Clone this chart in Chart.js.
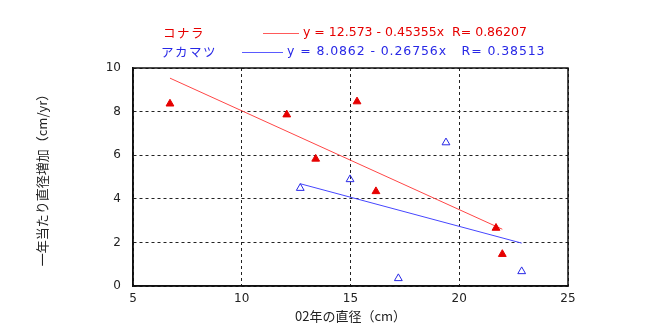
<!DOCTYPE html>
<html>
<head>
<meta charset="utf-8">
<script src="https://cdn.jsdelivr.net/npm/chart.js@4"></script>
<style>
  html, body { margin: 0; padding: 0; background: #fff; }
  #wrap { width: 657px; height: 332px; }
</style>
</head>
<body>
<div id="wrap"><canvas id="grafico"></canvas></div>
<script>
// コナラ (filled red) and アカマツ (open blue): 02年の直径 vs 年間直径増加
const konaraX = [6.7, 12.07, 13.4, 15.3, 16.17, 21.69, 21.98];
const konaraY = [8.36, 7.86, 5.83, 8.46, 4.34, 2.66, 1.46];
const akamatsuX = [12.69, 14.98, 19.39, 17.2, 22.87];
const akamatsuY = [4.49, 4.89, 6.58, 0.35, 0.67];

// regression coefficients shown in the legend: y = a - b x
const konaraFit = { a: 12.573, b: 0.45355, r: '0.86207' };
const akamatsuFit = { a: 8.0862, b: 0.26756, r: '0.38513' };

const xTicks = [5, 10, 15, 20, 25];
const yTicks = [0, 2, 4, 6, 8, 10];

const ROJO = 'rgb(230, 0, 0)';
const AZUL = 'rgb(40, 40, 230)';
const fuente = '"DejaVu Sans", "Noto Sans CJK JP", sans-serif';
const fuenteJP = '"Noto Sans CJK JP", "DejaVu Sans", sans-serif';

function puntos(xs, ys) {
  return xs.map((x, i) => ({ x: x, y: ys[i] }));
}

// trend line runs from smallest to largest diameter of the species
function recta(xs, fit) {
  const x0 = Math.min(...xs);
  const x1 = Math.max(...xs);
  return [{ x: x0, y: fit.a - fit.b * x0 }, { x: x1, y: fit.a - fit.b * x1 }];
}

// two-row legend above the plot, drawn by hand
const leyenda = {
  id: 'leyenda',
  afterDraw(chart) {
    const ctx = chart.ctx;
    const a = chart.chartArea;
    const filas = [
      { nombre: 'コナラ', color: ROJO, linea: 'rgb(255, 90, 90)', y: 33, xn: a.left + 30, l0: a.left + 130, l1: a.left + 166,
        texto: 'y = ' + konaraFit.a + ' - ' + konaraFit.b + 'x  R= ' + konaraFit.r, esp: '0px' },
      { nombre: 'アカマツ', color: AZUL, linea: 'rgb(90, 90, 255)', y: 52, xn: a.left + 28, l0: a.left + 109, l1: a.left + 150,
        texto: 'y = ' + akamatsuFit.a + ' - ' + akamatsuFit.b + 'x   R= ' + akamatsuFit.r, esp: '0.9px' }
    ];
    ctx.save();
    ctx.textBaseline = 'middle';
    filas.forEach(f => {
      ctx.fillStyle = f.color;
      ctx.font = '12.5px ' + fuenteJP;
      ctx.letterSpacing = '1.5px';
      ctx.fillText(f.nombre, f.xn, f.y);
      ctx.strokeStyle = f.linea;
      ctx.lineWidth = 1;
      ctx.beginPath();
      ctx.moveTo(f.l0, f.y + 0.5);
      ctx.lineTo(f.l1, f.y + 0.5);
      ctx.stroke();
      ctx.font = '12.5px ' + fuente;
      ctx.letterSpacing = f.esp;
      ctx.fillText(f.texto, f.l1 + 4, f.y);
    });
    ctx.restore();
  }
};

const rejilla = { color: '#222', lineWidth: 1, drawTicks: false, tickLength: 0 };
// in v4 the dash of the grid lines comes from border.dash
const borde = { display: true, color: '#111', width: 1.5, dash: [3, 3] };

new Chart(document.getElementById('grafico'), {
  type: 'scatter',
  data: {
    datasets: [
      {
        label: 'コナラ',
        data: puntos(konaraX, konaraY),
        pointStyle: 'triangle',
        pointRadius: 4.5,
        borderWidth: 1,
        borderColor: ROJO,
        backgroundColor: ROJO
      },
      {
        label: 'アカマツ',
        data: puntos(akamatsuX, akamatsuY),
        pointStyle: 'triangle',
        pointRadius: 4.5,
        borderWidth: 1,
        borderColor: AZUL,
        backgroundColor: 'rgba(255,255,255,0)'
      },
      {
        type: 'line',
        label: 'コナラ 回帰',
        data: recta(konaraX, konaraFit),
        borderColor: 'rgb(255, 70, 70)',
        borderWidth: 1,
        pointRadius: 0,
        fill: false
      },
      {
        type: 'line',
        label: 'アカマツ 回帰',
        data: recta(akamatsuX, akamatsuFit),
        borderColor: 'rgb(70, 70, 255)',
        borderWidth: 1,
        pointRadius: 0,
        fill: false
      }
    ]
  },
  options: {
    responsive: true,
    maintainAspectRatio: false,
    animation: false,
    events: [],
    layout: { padding: { left: 30, top: 68, right: 89, bottom: 0 } },
    plugins: {
      legend: { display: false },
      tooltip: { enabled: false }
    },
    scales: {
      x: {
        type: 'linear',
        min: 5,
        max: 25,
        afterBuildTicks: s => { s.ticks = xTicks.map(v => ({ value: v })); },
        afterFit: s => { s.height = 46; },
        border: borde,
        grid: rejilla,
        ticks: { color: '#222', font: { family: fuente, size: 12 }, padding: 6 },
        title: {
          display: true,
          text: '02年の直径（cm）',
          color: '#222',
          font: { family: fuenteJP, size: 13 },
          padding: { top: 2, bottom: 8 }
        }
      },
      y: {
        type: 'linear',
        min: 0,
        max: 10,
        afterBuildTicks: s => { s.ticks = yTicks.map(v => ({ value: v })); },
        afterFit: s => { s.width = 103; },
        border: borde,
        grid: rejilla,
        ticks: { color: '#222', font: { family: fuente, size: 12 }, padding: 12 },
        title: {
          display: true,
          text: '一年当たり直径増加（cm/yr）',
          color: '#222',
          font: { family: fuenteJP, size: 13 },
          padding: { top: 4, bottom: 0 }
        }
      }
    }
  },
  plugins: [
    leyenda,
    {
      // solid frame around the plot area
      id: 'marco',
      afterDatasetsDraw(chart) {
        const ctx = chart.ctx;
        const a = chart.chartArea;
        ctx.save();
        ctx.strokeStyle = '#111';
        ctx.lineWidth = 1.5;
        ctx.strokeRect(a.left, a.top, a.right - a.left, a.bottom - a.top);
        ctx.restore();
      }
    }
  ]
});
</script>
</body>
</html>
